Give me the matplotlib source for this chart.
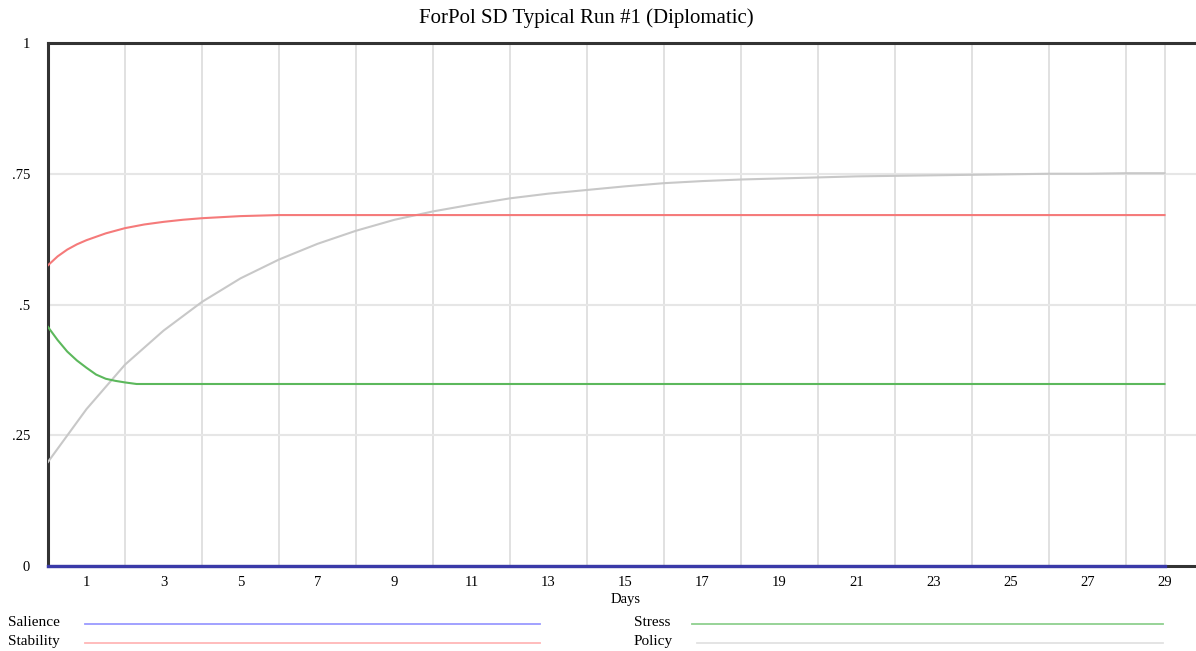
import numpy as np
import matplotlib.pyplot as plt
from matplotlib.lines import Line2D

# Days for each series
days_salience = [0, 29]
salience = [0.0, 0.0]

days_stability = [0, 0.25, 0.5, 0.75, 1, 1.5, 2, 2.5, 3, 3.5, 4, 5, 6, 29]
stability = [0.575, 0.592, 0.605, 0.615, 0.623, 0.636, 0.646, 0.653, 0.658, 0.662, 0.665, 0.669, 0.671, 0.671]

days_stress = [0, 0.25, 0.5, 0.75, 1, 1.25, 1.5, 1.75, 2, 2.3, 29]
stress = [0.457, 0.432, 0.410, 0.393, 0.379, 0.366, 0.358, 0.354, 0.351, 0.348, 0.348]

days_policy = list(range(0, 30))
policy = [0.199, 0.300, 0.385, 0.450, 0.505, 0.550, 0.586, 0.616, 0.641, 0.662,
          0.678, 0.691, 0.703, 0.712, 0.719, 0.726, 0.732, 0.736, 0.739, 0.741,
          0.743, 0.745, 0.746, 0.747, 0.748, 0.749, 0.750, 0.750, 0.751, 0.751]

x_labels = list(range(1, 30, 2))
x_grid = list(range(2, 30, 2)) + [29]
y_ticks = [0, 0.25, 0.5, 0.75, 1]
y_labels = ["0", ".25", ".5", ".75", "1"]

plt.rcParams['font.family'] = ['Liberation Serif', 'DejaVu Serif']

fig = plt.figure(figsize=(11.96, 6.51), dpi=100)
ax = fig.add_axes([48 / 1196, 85 / 651, 1155 / 1196, 523 / 651])
ax.set_xlim(0, 30)
ax.set_ylim(0, 1)

# grid
for gx in x_grid:
    ax.axvline(gx, color='#dedede', lw=1.3, zorder=1)
for gy in [0.25, 0.5, 0.75]:
    ax.axhline(gy, color='#e6e6e6', lw=1.5, zorder=1)

ax.plot(days_policy, policy, color='#c8c8c8', lw=1.5, zorder=3)
ax.plot(days_stability, stability, color='#f57a7a', lw=1.5, zorder=3)
ax.plot(days_stress, stress, color='#5cb85c', lw=1.5, zorder=3)
ax.plot(days_salience, salience, color='#3a3aa8', lw=2.4, zorder=5, clip_on=False)

for side in ['top', 'left', 'bottom']:
    ax.spines[side].set_color('#333333')
    ax.spines[side].set_linewidth(2.2)
ax.spines['right'].set_visible(False)

ax.set_xticks(x_labels)
ax.set_xticklabels([str(v) for v in x_labels], fontsize=10.5)
ax.set_yticks(y_ticks)
ax.set_yticklabels(y_labels, fontsize=10.5)
ax.tick_params(axis='both', length=0)
ax.tick_params(axis='x', pad=7)
ax.tick_params(axis='y', pad=13)
for lab in ax.get_yticklabels():
    lab.set_horizontalalignment('right')

ax.set_xlabel('Days', fontsize=10.5, labelpad=3)
fig.text(0.49, 0.972, 'ForPol SD Typical Run #1 (Diplomatic)', ha='center', va='center', fontsize=15)

# legend drawn below, Vensim style
legend_items = [
    ('Salience', '#9a9aff', 8, 85, 540, 623),
    ('Stability', '#ffb6b6', 8, 85, 540, 642),
    ('Stress', '#8fd08f', 634, 692, 1163, 623),
    ('Policy', '#e2e2e2', 634, 697, 1163, 642),
]
for name, col, tx, x0, x1, y in legend_items:
    fig.text(tx / 1196, 1 - y / 651, name, ha='left', va='center', fontsize=11)
    fig.add_artist(Line2D([x0 / 1196, x1 / 1196], [1 - (y + 1) / 651, 1 - (y + 1) / 651],
                          color=col, lw=1.3, transform=fig.transFigure))

fig.savefig('out.png', dpi=100)
